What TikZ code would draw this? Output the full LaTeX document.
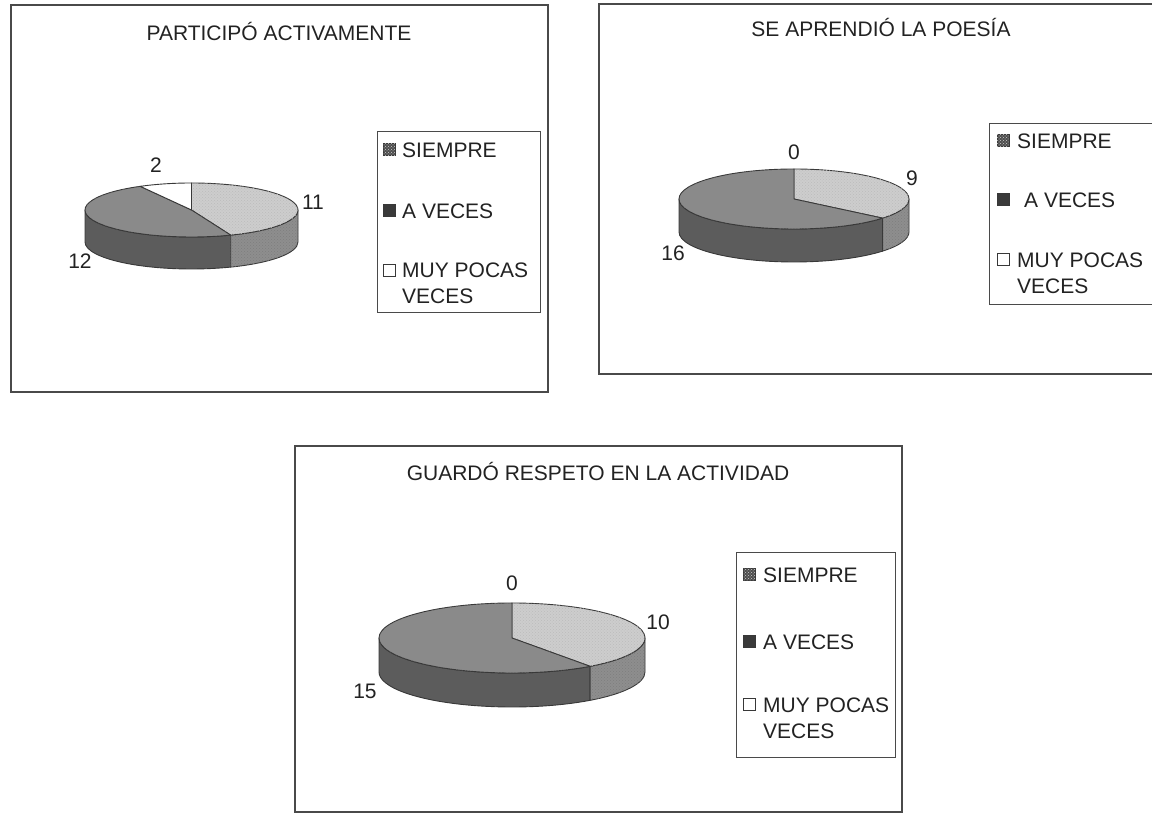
\documentclass[tikz,border=0pt]{standalone}
\usepackage{fontspec}
\setmainfont{Liberation Sans}
\usetikzlibrary{patterns}
\definecolor{sieT}{HTML}{CDCDCD}
\definecolor{sieS}{HTML}{8E8E8E}
\definecolor{avT}{HTML}{8A8A8A}
\definecolor{avS}{HTML}{5C5C5C}
\definecolor{pline}{HTML}{383838}
\definecolor{framec}{HTML}{4A4A4A}
\definecolor{txt}{HTML}{222222}
\definecolor{mkS}{HTML}{4E4E4E}
\definecolor{mkA}{HTML}{3A3A3A}
\newcommand{\pside}[3]{%
  \filldraw[#1] ({\prx*cos(#2)},{\pry*sin(#2)}) arc[start angle=#2,end angle=#3,x radius=\prx,y radius=\pry] -- ++(0,-\pdp) arc[start angle=#3,end angle=#2,x radius=\prx,y radius=\pry] -- cycle;}
\newcommand{\ptop}[3]{%
  \filldraw[#1] (0,0) -- ({\prx*cos(#2)},{\pry*sin(#2)}) arc[start angle=#2,end angle=#3,x radius=\prx,y radius=\pry] -- cycle;}
\begin{document}
\begin{tikzpicture}[x=1pt,y=1pt,
  frame/.style={draw=framec,line width=1.3pt},
  legbox/.style={draw=framec,line width=1pt},
  ttl/.style={font=\fontsize{21}{26}\selectfont,text=txt,inner sep=0pt},
  lbl/.style={font=\fontsize{21}{26}\selectfont,text=txt,inner sep=0pt},
  lt/.style={font=\fontsize{21}{26}\selectfont,text=txt,inner sep=0pt,anchor=west,align=left},
  mk/.style={draw=pline,line width=1pt,minimum size=12pt,inner sep=0pt},
  mks/.style={mk,fill=mkS,postaction={pattern=crosshatch dots,pattern color=gray!40}},
  sietop/.style={fill=sieT,draw=pline,line width=0.9pt,line join=round,
    postaction={pattern=crosshatch dots,pattern color=sieS!60}},
  sieside/.style={fill=sieS,draw=pline,line width=0.9pt,line join=round,
    postaction={pattern=crosshatch dots,pattern color=avS!80}},
  avtop/.style={fill=avT,draw=pline,line width=0.9pt,line join=round,
    postaction={pattern=dots,pattern color=avS!70}},
  avside/.style={fill=avS,draw=pline,line width=0.9pt,line join=round},
  mptop/.style={fill=white,draw=pline,line width=0.9pt,line join=round}]
\useasboundingbox (0,0) rectangle (1152,814);
\clip (0,0) rectangle (1152,814);

% ---------- Chart 1 ----------
\draw[frame] (11,422) rectangle (548,809);
\node[ttl] (t1) at (279,782) {PARTICIPÓ ACTIVAMENTE};
\begin{scope}[shift={(191.5,604)}]
  \def\prx{106.5}\def\pry{27}\def\pdp{32}
  \pside{avside}{-180}{-68.4}
  \pside{sieside}{-68.4}{0}
  \ptop{sietop}{-68.4}{90}
  \ptop{avtop}{118.8}{291.6}
  \ptop{mptop}{90}{118.8}
\end{scope}
\node[lbl] (p1c) at (156,649) {2};
\node[lbl] (p1a) at (313,612) {11};
\node[lbl] (p1b) at (80,553) {12};
\draw[legbox] (377,501) rectangle (540,682);
\node[mks] (m1a) at (389.5,664) {};
\node[lt] (l1a) at (402,664) {SIEMPRE};
\node[mk,fill=mkA] (m1b) at (389.5,603) {};
\node[lt] (l1b) at (402,603) {A VECES};
\node[mk,fill=white] (m1c) at (389.5,543) {};
\node[lt] (l1c) at (402,530.5) {MUY POCAS\\VECES};

% ---------- Chart 2 ----------
\draw[frame] (599,440) rectangle (1165,810);
\node[ttl] (t2) at (881,786) {SE APRENDIÓ LA POESÍA};
\begin{scope}[shift={(794,615)}]
  \def\prx{115}\def\pry{30}\def\pdp{33}
  \pside{avside}{-180}{-39.6}
  \pside{sieside}{-39.6}{0}
  \ptop{sietop}{-39.6}{90}
  \ptop{avtop}{90}{320.4}
\end{scope}
\node[lbl] (p2c) at (794,662) {0};
\node[lbl] (p2a) at (912,636) {9};
\node[lbl] (p2b) at (673,561) {16};
\draw[legbox] (989,509) rectangle (1158,690);
\node[mks] (m2a) at (1003,673) {};
\node[lt] (l2a) at (1017,673) {SIEMPRE};
\node[mk,fill=mkA] (m2b) at (1003,614) {};
\node[lt] (l2b) at (1024,614) {A VECES};
\node[mk,fill=white] (m2c) at (1003,554) {};
\node[lt] (l2c) at (1017,541) {MUY POCAS\\VECES};

% ---------- Chart 3 ----------
\draw[frame] (295,2) rectangle (902,368);
\node[ttl] (t3) at (598,342) {GUARDÓ RESPETO EN LA ACTIVIDAD};
\begin{scope}[shift={(512,176)}]
  \def\prx{133}\def\pry{35}\def\pdp{34}
  \pside{avside}{-180}{-54}
  \pside{sieside}{-54}{0}
  \ptop{sietop}{-54}{90}
  \ptop{avtop}{90}{306}
\end{scope}
\node[lbl] (p3c) at (512,231) {0};
\node[lbl] (p3a) at (658,192) {10};
\node[lbl] (p3b) at (365,123) {15};
\draw[legbox] (736,56) rectangle (895,261);
\node[mks] (m3a) at (749.5,239) {};
\node[lt] (l3a) at (763,239) {SIEMPRE};
\node[mk,fill=mkA] (m3b) at (749.5,172) {};
\node[lt] (l3b) at (763,172) {A VECES};
\node[mk,fill=white] (m3c) at (749.5,109) {};
\node[lt] (l3c) at (763,96) {MUY POCAS\\VECES};
\end{tikzpicture}
\end{document}
